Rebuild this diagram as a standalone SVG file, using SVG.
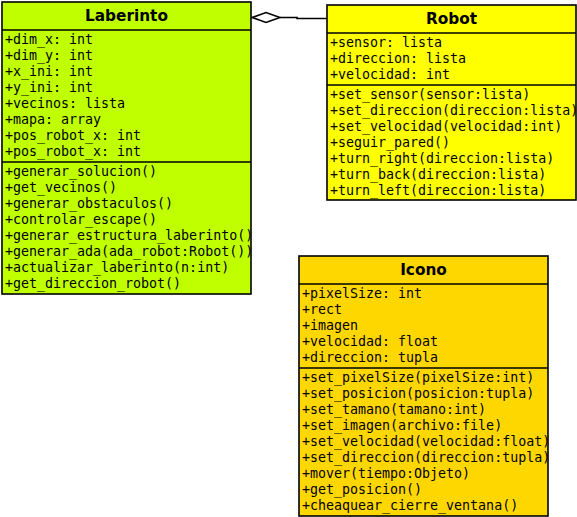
<svg xmlns="http://www.w3.org/2000/svg" width="577" height="517" viewBox="0 0 577 517">
<defs>
<style>
.box{stroke:#000;stroke-width:1.6}
.sep{stroke:#000;stroke-width:1.6}
.title{font-family:"DejaVu Sans",sans-serif;font-weight:bold;font-size:15.3px;text-anchor:middle;fill:#000}
.m{font-family:"DejaVu Sans Mono",monospace;font-size:13.3px;fill:#000}
.conn{fill:none;stroke:#000;stroke-width:1.6}
.diamond{fill:#fff;stroke:#000;stroke-width:1.6}
</style>
</defs>
<rect width="577" height="517" fill="#fff"/>
<g id="connectors">
<polyline class="conn" points="280,17.5 297,17.5 297,18.5 327,18.5"/>
<path class="diamond" d="M252,17.5 L266,12.5 L280,17.5 L266,22.5 Z"/>
</g>
<g id="Laberinto">
<rect class="box" x="2" y="2" width="249" height="292" fill="#BFFF00"/>
<line class="sep" x1="2" y1="30" x2="251" y2="30"/>
<line class="sep" x1="2" y1="162" x2="251" y2="162"/>
<text class="title" x="126.5" y="21">Laberinto</text>
<text class="m" x="5" y="44">+dim_x: int</text>
<text class="m" x="5" y="60">+dim_y: int</text>
<text class="m" x="5" y="76">+x_ini: int</text>
<text class="m" x="5" y="92">+y_ini: int</text>
<text class="m" x="5" y="108">+vecinos: lista</text>
<text class="m" x="5" y="124">+mapa: array</text>
<text class="m" x="5" y="140">+pos_robot_x: int</text>
<text class="m" x="5" y="156">+pos_robot_x: int</text>
<text class="m" x="5" y="176">+generar_solucion()</text>
<text class="m" x="5" y="192">+get_vecinos()</text>
<text class="m" x="5" y="208">+generar_obstaculos()</text>
<text class="m" x="5" y="224">+controlar_escape()</text>
<text class="m" x="5" y="240">+generar_estructura_laberinto()</text>
<text class="m" x="5" y="256">+generar_ada(ada_robot:Robot())</text>
<text class="m" x="5" y="272">+actualizar_laberinto(n:int)</text>
<text class="m" x="5" y="288">+get_direccion_robot()</text>
</g>
<g id="Robot">
<rect class="box" x="327" y="5" width="249" height="195" fill="#FFFF00"/>
<line class="sep" x1="327" y1="33" x2="576" y2="33"/>
<line class="sep" x1="327" y1="85" x2="576" y2="85"/>
<text class="title" x="451.5" y="24">Robot</text>
<text class="m" x="330" y="47">+sensor: lista</text>
<text class="m" x="330" y="63">+direccion: lista</text>
<text class="m" x="330" y="79">+velocidad: int</text>
<text class="m" x="330" y="99">+set_sensor(sensor:lista)</text>
<text class="m" x="330" y="115">+set_direccion(direccion:lista)</text>
<text class="m" x="330" y="131">+set_velocidad(velocidad:int)</text>
<text class="m" x="330" y="147">+seguir_pared()</text>
<text class="m" x="330" y="163">+turn_right(direccion:lista)</text>
<text class="m" x="330" y="179">+turn_back(direccion:lista)</text>
<text class="m" x="330" y="195">+turn_left(direccion:lista)</text>
</g>
<g id="Icono">
<rect class="box" x="299" y="256" width="249" height="260" fill="#FFD700"/>
<line class="sep" x1="299" y1="284" x2="548" y2="284"/>
<line class="sep" x1="299" y1="368" x2="548" y2="368"/>
<text class="title" x="423.5" y="275">Icono</text>
<text class="m" x="302" y="298">+pixelSize: int</text>
<text class="m" x="302" y="314">+rect</text>
<text class="m" x="302" y="330">+imagen</text>
<text class="m" x="302" y="346">+velocidad: float</text>
<text class="m" x="302" y="362">+direccion: tupla</text>
<text class="m" x="302" y="382">+set_pixelSize(pixelSize:int)</text>
<text class="m" x="302" y="398">+set_posicion(posicion:tupla)</text>
<text class="m" x="302" y="414">+set_tamano(tamano:int)</text>
<text class="m" x="302" y="430">+set_imagen(archivo:file)</text>
<text class="m" x="302" y="446">+set_velocidad(velocidad:float)</text>
<text class="m" x="302" y="462">+set_direccion(direccion:tupla)</text>
<text class="m" x="302" y="478">+mover(tiempo:Objeto)</text>
<text class="m" x="302" y="494">+get_posicion()</text>
<text class="m" x="302" y="510">+cheaquear_cierre_ventana()</text>
</g>
</svg>
